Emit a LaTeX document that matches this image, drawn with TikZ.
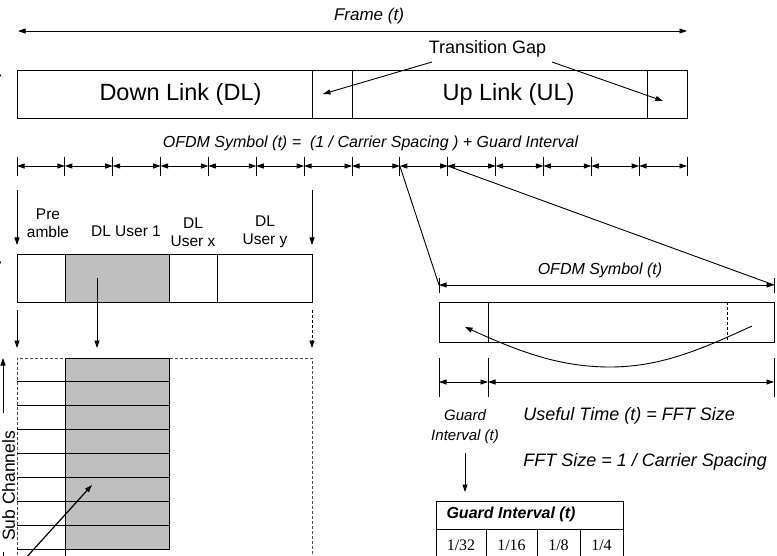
\documentclass[tikz,border=0pt]{standalone}
\usepackage{fontspec}
\setmainfont{Liberation Sans}
\newfontfamily\numfont{Liberation Serif}
\usetikzlibrary{arrows.meta}
\begin{document}
\begin{tikzpicture}[x=1pt,y=-1pt,line width=0.9pt,
  >={Triangle[length=7.5pt,width=5pt]},
  fs/.style={font=\fontsize{#1}{#1}\selectfont, inner sep=0pt},
  fi/.style={font=\fontsize{#1}{#1}\selectfont\itshape, inner sep=0pt},
  cellgray/.style={fill=black!25},
  gridline/.style={line width=0.9pt},
  outline/.style={dash pattern=on 3pt off 2pt, black!70}]
\useasboundingbox (0,0) rectangle (777,556);
\begin{scope}
\clip (0,0) rectangle (777,556);

% ---------- frame: DL / UL ----------
\coordinate (fL) at (18,31);
\coordinate (fR) at (687,31);
\draw[<->] (fL) -- (fR);
\node[fi=17] (frame) at (369,16) {Frame (t)};

\draw (17,70) rectangle (687,118);
\draw (312,70) -- (312,118);
\draw (352,70) -- (352,118);
\draw (647,70) -- (647,118);
\node[fs=23.5] (dl) at (180.5,94) {Down Link (DL)};
\node[fs=23.5] (ul) at (508.5,94) {Up Link (UL)};

\node[fs=18] (tg) at (487.5,49) {Transition Gap};
\coordinate (tgA) at (432,62);
\coordinate (tgB) at (552,62);
\coordinate (gap1) at (323,94);
\coordinate (gap2) at (663,101);
\draw[->] (tgA) -- (gap1);
\draw[->] (tgB) -- (gap2);

% ---------- OFDM symbol row ----------
\node[fi=16] (formula) at (370.5,143.5)
  {OFDM Symbol (t) =\ \ (1 / Carrier Spacing ) + Guard Interval};
\foreach \i in {0,...,14} {
  \pgfmathsetmacro\xx{17+47.857*\i}
  \draw (\xx,157) -- (\xx,176);
  \coordinate (t\i) at (\xx,166);
}
\foreach \i [evaluate=\i as \j using int(\i+1)] in {0,...,13}
  \draw[<->] (t\i) -- (t\j);

% ---------- zoom on one OFDM symbol ----------
\coordinate (oL) at (439,285);
\coordinate (oR) at (774,285);
\draw (t8) -- (oL);
\draw (t9) -- (oR);
\draw (439,278) -- (439,293);
\draw (774,278) -- (774,293);
\draw[<->] (oL) -- (oR);
\node[fi=16] (osym) at (600,270) {OFDM Symbol (t)};

\draw (439,302) rectangle (774,342);
\draw (488,302) -- (488,342);
\draw[dash pattern=on 3pt off 2pt] (727,302) -- (727,342);
\coordinate (cpS) at (752,326);
\coordinate (cpE) at (465,327);
\draw[->] (cpS) .. controls (700,350) and (660,367) .. (610,367)
                .. controls (560,367) and (520,352) .. (cpE);

\draw (439,358) -- (439,397);
\draw (488,358) -- (488,397);
\draw (774,358) -- (774,397);
\coordinate (gA) at (439,382);
\coordinate (gB) at (488,382);
\coordinate (gC) at (774,382);
\draw[<->] (gA) -- (gB);
\draw[<->] (gB) -- (gC);

\node[fi=15, align=center] (gi) at (465,427) {Guard\\[5pt]Interval (t)};
\node[fi=18, anchor=west] (useful) at (523,416) {Useful Time (t) = FFT Size};
\node[fi=18, anchor=west] (fft) at (523,462) {FFT Size = 1 / Carrier Spacing};

\coordinate (giA) at (465,453);
\coordinate (giB) at (465,492);
\draw[->] (giA) -- (giB);

% guard interval table
\draw (436,501) rectangle (623,600);
\draw (436,529) -- (623,529);
\draw (486,529) -- (486,600);
\draw (537,529) -- (537,600);
\draw (580,529) -- (580,600);
\node[font=\fontsize{16}{16}\selectfont\bfseries\itshape, inner sep=0pt]
  (gith) at (511,514) {Guard Interval (t)};
\node[font=\numfont\fontsize{16}{16}\selectfont, inner sep=0pt] (g32) at (461,545) {1/32};
\node[font=\numfont\fontsize{16}{16}\selectfont, inner sep=0pt] (g16) at (511.5,545) {1/16};
\node[font=\numfont\fontsize{16}{16}\selectfont, inner sep=0pt] (g8) at (558.5,545) {1/8};
\node[font=\numfont\fontsize{16}{16}\selectfont, inner sep=0pt] (g4) at (601.5,545) {1/4};

% ---------- downlink sub-frame ----------
\coordinate (dA) at (17,190);  \coordinate (dB) at (17,245);
\coordinate (dC) at (312,190); \coordinate (dD) at (312,245);
\draw[->] (dA) -- (dB);
\draw[->] (dC) -- (dD);

\node[fs=15.5, align=center] (pre) at (48,223) {Pre\\[3pt]amble};
\node[fs=15.5] (u1) at (126,231) {DL User 1};
\node[fs=15.5, align=center] (ux) at (193,232) {DL\\[3pt]User x};
\node[fs=15.5, align=center] (uy) at (265,232) {DL\\[3pt]User y};

\fill[cellgray] (65,254) rectangle (169,302);
\draw (17,254) rectangle (312,302);
\draw (65,254) -- (65,302);
\draw (169,254) -- (169,302);
\draw (217,254) -- (217,302);

\coordinate (u1A) at (97,278); \coordinate (u1B) at (97,348);
\draw[->] (u1A) -- (u1B);
\coordinate (lA) at (17,310); \coordinate (lB) at (17,348);
\draw[->] (lA) -- (lB);
\coordinate (rA) at (312,310); \coordinate (rB) at (312,348);
\draw[->, dash pattern=on 3pt off 2pt] (rA) -- (rB);

% sub-channel grid
\fill[cellgray] (65,358) rectangle (169,549.5);
\draw[outline] (17,600) -- (17,358) -- (312,358) -- (312,600);
\draw[gridline] (65,358) -- (169,358);
\foreach \k in {1,...,8}
  \draw[gridline] (17,358+23.9*\k) -- (169,358+23.9*\k);
\draw[gridline] (65,358) -- (65,600);
\draw[gridline] (169,358) -- (169,549.5);

\coordinate (pA) at (24,560); \coordinate (pB) at (92,485);
\draw[->, line width=1.2pt] (pA) -- (pB);

% sub channels axis
\node[fs=17.5, rotate=90] (sub) at (8.5,486) {Sub Channels};
\coordinate (sA) at (3,413); \coordinate (sB) at (3,358);
\draw[->] (sA) -- (sB);
\coordinate (sC) at (3,552); \coordinate (sD) at (3,600);
\draw (sC) -- (sD);

% time axes at the far left
\coordinate (eA) at (-1.5,110); \coordinate (eB) at (-1.5,69);
\draw[->] (eA) -- (eB);
\coordinate (eC) at (-1.5,300); \coordinate (eD) at (-1.5,256);
\draw[->] (eC) -- (eD);
\end{scope}
\end{tikzpicture}
\end{document}
